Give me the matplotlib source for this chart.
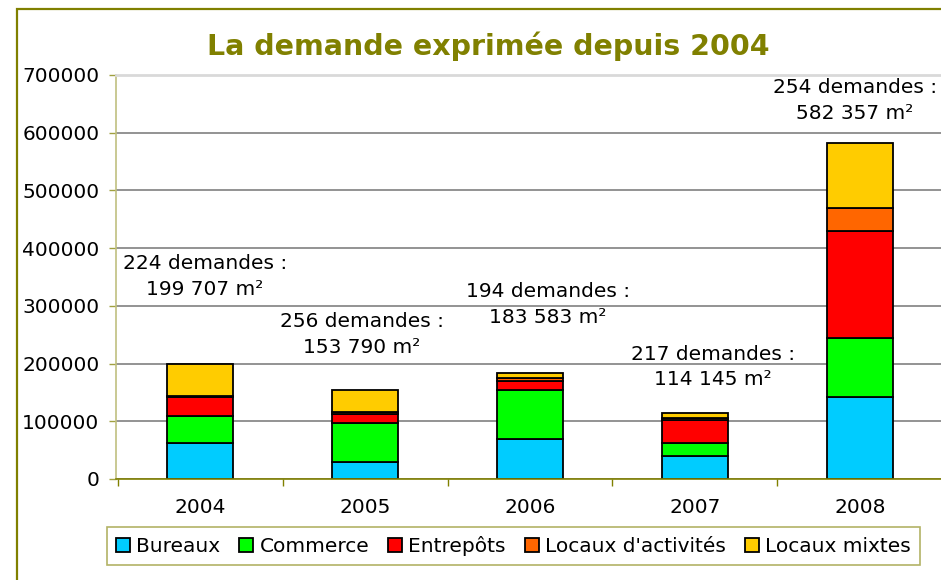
"""Stacked bar chart: demande exprimée depuis 2004, by type of premises."""
import numpy as np
import matplotlib
matplotlib.use('Agg')
import matplotlib.pyplot as plt
from matplotlib.patches import Rectangle

years = ['2004', '2005', '2006', '2007', '2008']
series = ['Bureaux', 'Commerce', 'Entrepôts', "Locaux d'activités", 'Locaux mixtes']
bureaux = [62200, 30300, 69700, 39500, 142900]
commerce = [47000, 66700, 85300, 22700, 101700]
entrepots = [33100, 15700, 15200, 39500, 185700]
activites = [800, 4000, 5000, 4600, 40100]
mixtes = [56607, 37090, 8383, 7845, 111957]
nb_demandes = [224, 256, 194, 217, 254]
surfaces = ['199 707', '153 790', '183 583', '114 145', '582 357']

colors = ['#00ccff', '#00ff00', '#ff0000', '#ff6600', '#ffcc00']
olive = '#808000'

# label placement (category offset, y in data units)
label_dx = [0.03, -0.02, 0.11, 0.11, -0.03]
label_y = [351000, 250000, 303000, 194000, 656000]

fig = plt.figure(figsize=(9.41, 5.80), dpi=100)
fig.patches.append(Rectangle((17 / 941, -0.1), 1.1, 1 - 9 / 580 + 0.1,
                             transform=fig.transFigure, fill=False,
                             edgecolor=olive, linewidth=1.6))

ax = fig.add_axes([116 / 941, 101 / 580, 828 / 941, 404 / 580])
x = np.arange(len(years))
bottom = np.zeros(len(years))
for name, vals, col in zip(series, [bureaux, commerce, entrepots, activites, mixtes], colors):
    ax.bar(x, vals, 0.4, bottom=bottom, color=col, edgecolor='black',
           linewidth=1.3, label=name, zorder=3)
    bottom += np.array(vals)

ax.set_xlim(-0.51, 4.51)
ax.set_ylim(0, 700000)
ax.set_yticks(np.arange(0, 700001, 100000))
ax.set_yticklabels([str(v) for v in range(0, 700001, 100000)])
ax.set_xticks(x)
ax.set_xticklabels(years)
ax.set_xticks(np.arange(-0.5, 5, 1.0), minor=True)
ax.tick_params(axis='x', which='major', length=0, pad=14, labelsize=14.5)
ax.tick_params(axis='x', which='minor', length=5, color=olive, width=1)
ax.tick_params(axis='y', length=5, color='#a0a040', width=1, pad=7, labelsize=14.5)

ax.grid(axis='y', color='#808080', linewidth=1.2, zorder=0)
ax.spines['right'].set_visible(False)
ax.spines['top'].set_color('#d9d9d9')
ax.spines['top'].set_linewidth(2)
ax.spines['left'].set_color('#c0c080')
ax.spines['left'].set_linewidth(1.2)
ax.spines['bottom'].set_color(olive)
ax.spines['bottom'].set_linewidth(1.2)
ax.spines['bottom'].set_zorder(4)

for i, (n, s) in enumerate(zip(nb_demandes, surfaces)):
    ax.text(x[i] + label_dx[i], label_y[i], f'{n} demandes :\n{s} m²',
            ha='center', va='center', fontsize=14.5, linespacing=1.45,
            color='black', zorder=5)

fig.text(0.519, 0.921, 'La demande exprimée depuis 2004', ha='center', va='center',
         fontsize=20.5, fontweight='bold', color=olive)

leg = fig.legend(loc='center', bbox_to_anchor=(513.5 / 941, 34 / 580), ncol=5,
                 fontsize=14.5, frameon=True, fancybox=False, edgecolor='#a0a040',
                 handlelength=0.7, handleheight=0.7, handletextpad=0.3,
                 columnspacing=0.95, borderpad=0.45)
leg.get_frame().set_linewidth(1.2)

fig.savefig('out.png', dpi=100)
